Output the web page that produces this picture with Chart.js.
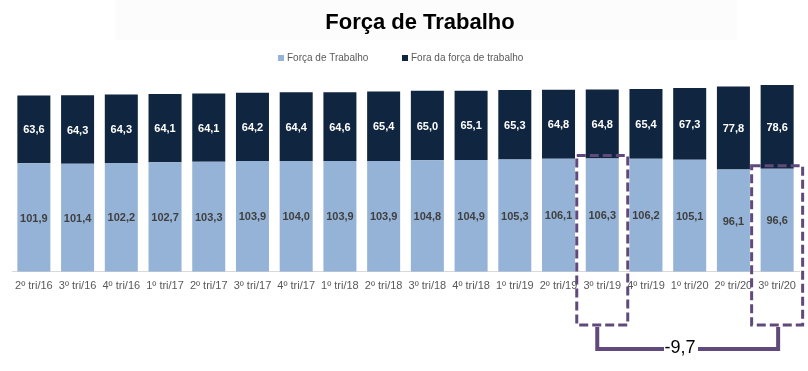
<!DOCTYPE html>
<html lang="pt">
<head>
<meta charset="UTF-8">
<title>Força de Trabalho</title>
<script src="https://cdn.jsdelivr.net/npm/chart.js"></script>
<style>
  body { margin: 0; background: #fff; }
</style>
</head>
<body>
<canvas id="grafico" width="808" height="371"></canvas>
<script>
// dados
const trimestres = ['2º tri/16', '3º tri/16', '4º tri/16', '1º tri/17', '2º tri/17', '3º tri/17', '4º tri/17',
    '1º tri/18', '2º tri/18', '3º tri/18', '4º tri/18', '1º tri/19', '2º tri/19', '3º tri/19', '4º tri/19',
    '1º tri/20', '2º tri/20', '3º tri/20'];
const forcaTrabalho = [101.9, 101.4, 102.2, 102.7, 103.3, 103.9, 104.0, 103.9, 103.9, 104.8, 104.9, 105.3,
    106.1, 106.3, 106.2, 105.1, 96.1, 96.6];
const foraForca = [63.6, 64.3, 64.3, 64.1, 64.1, 64.2, 64.4, 64.6, 65.4, 65.0, 65.1, 65.3, 64.8, 64.8, 65.4,
    67.3, 77.8, 78.6];
const comparar = [13, 17]; // 3º tri/19 x 3º tri/20

const corClara = '#95B3D7';
const corEscura = '#10253F';
const roxo = '#604A7B';

function fmt(v) {
    return v.toFixed(1).replace('.', ',');
}

// rótulos, título, legenda e destaque
const extras = {
    id: 'extras',
    afterDatasetsDraw(chart) {
        const ctx = chart.ctx;
        ctx.save();
        ctx.textAlign = 'center';
        ctx.textBaseline = 'middle';
        ctx.font = 'bold 11px "Liberation Sans", Arial, sans-serif';
        chart.data.datasets.forEach(function (ds, i) {
            chart.getDatasetMeta(i).data.forEach(function (bar, j) {
                const meio = (bar.y + bar.base) / 2;
                ctx.fillStyle = i == 0 ? '#404040' : '#ffffff';
                ctx.fillText(fmt(ds.data[j]), bar.x, meio + 1);
            });
        });
        ctx.restore();
    },
    afterDraw(chart) {
        const ctx = chart.ctx;
        const x = chart.scales.x;
        const y = chart.scales.y;
        ctx.save();

        // título
        ctx.fillStyle = '#fcfcfc';
        ctx.fillRect(115, 0, 622, 40);
        ctx.fillStyle = '#000';
        ctx.textAlign = 'center';
        ctx.textBaseline = 'middle';
        ctx.font = 'bold 22px "Liberation Sans", Arial, sans-serif';
        ctx.fillText('Força de Trabalho', 420, 23);

        // legenda
        ctx.font = '10px "Liberation Sans", Arial, sans-serif';
        ctx.textAlign = 'left';
        let lx = 278;
        chart.data.datasets.forEach(function (ds) {
            ctx.fillStyle = ds.backgroundColor;
            ctx.fillRect(lx, 55, 6, 6);
            ctx.fillStyle = '#595959';
            ctx.fillText(ds.label, lx + 9, 58);
            lx += 124;
        });

        // caixas tracejadas
        const fundo = 325;
        const meia = 25.5;
        ctx.strokeStyle = roxo;
        ctx.lineWidth = 3;
        ctx.setLineDash([9, 4]);
        comparar.forEach(function (k) {
            const cx = x.getPixelForValue(k);
            const topo = y.getPixelForValue(forcaTrabalho[k]) - 3;
            ctx.strokeRect(cx - meia, topo, meia * 2, fundo - topo);
        });

        // colchete
        ctx.setLineDash([]);
        ctx.lineWidth = 4;
        const x1 = x.getPixelForValue(comparar[0]) - 5;
        const x2 = x.getPixelForValue(comparar[1]) + 1;
        ctx.beginPath();
        ctx.moveTo(x1, fundo + 2);
        ctx.lineTo(x1, 349);
        ctx.lineTo(x2, 349);
        ctx.lineTo(x2, fundo + 2);
        ctx.stroke();

        const dif = forcaTrabalho[comparar[1]] - forcaTrabalho[comparar[0]];
        ctx.fillStyle = '#fff';
        ctx.fillRect(664, 334, 34, 26);
        ctx.fillStyle = '#000';
        ctx.textAlign = 'center';
        ctx.font = '18px "Liberation Sans", Arial, sans-serif';
        ctx.fillText(fmt(dif), 680, 348);
        ctx.restore();
    }
};

const config = {
    type: 'bar',
    data: {
        labels: trimestres,
        datasets: [
            { label: 'Força de Trabalho', data: forcaTrabalho, backgroundColor: corClara },
            { label: 'Fora da força de trabalho', data: foraForca, backgroundColor: corEscura }
        ]
    },
    options: {
        responsive: false,
        animation: false,
        layout: { padding: { left: 12, right: 9, top: 80, bottom: 70 } },
        datasets: { bar: { barPercentage: 0.755, categoryPercentage: 1 } },
        plugins: {
            legend: { display: false },
            title: { display: false },
            tooltip: { enabled: false }
        },
        scales: {
            x: {
                stacked: true,
                grid: { display: false, drawTicks: false },
                border: { display: true, color: '#d9d9d9', width: 1 },
                ticks: {
                    color: '#595959',
                    padding: 8,
                    maxRotation: 0,
                    autoSkip: false,
                    font: { family: '"Liberation Sans", Arial, sans-serif', size: 11 }
                }
            },
            y: {
                stacked: true,
                display: false,
                min: 0,
                max: 180
            }
        }
    },
    plugins: [extras]
};

new Chart(document.getElementById('grafico'), config);
</script>
</body>
</html>
